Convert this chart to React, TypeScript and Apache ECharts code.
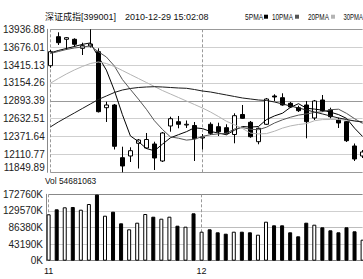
import React, { useEffect, useRef } from 'react';
import * as echarts from 'echarts';

const dates = [
  '2010-11-04', '2010-11-05', '2010-11-08', '2010-11-09', '2010-11-10', '2010-11-11', '2010-11-12',
  '2010-11-15', '2010-11-16', '2010-11-17', '2010-11-18', '2010-11-19', '2010-11-22', '2010-11-23',
  '2010-11-24', '2010-11-25', '2010-11-26', '2010-11-29', '2010-11-30', '2010-12-01', '2010-12-02',
  '2010-12-03', '2010-12-06', '2010-12-07', '2010-12-08', '2010-12-09', '2010-12-10', '2010-12-13',
  '2010-12-14', '2010-12-15', '2010-12-16', '2010-12-17', '2010-12-20', '2010-12-21', '2010-12-22',
  '2010-12-23', '2010-12-24', '2010-12-27', '2010-12-28', '2010-12-29',
];

const opens = [
  13405.7, 13828.9, 13791.0, 13791.0, 13659.6, 13693.2, 13610.0, 12792.7, 12832.1, 12063.0,
  12087.8, 12273.2, 12204.6, 12263.0, 12014.9, 12525.7, 12588.4, 12540.2, 12533.0, 12350.5,
  12550.5, 12515.4, 12500.8, 12401.6, 12693.5, 12579.6, 12296.5, 12550.5, 12963.5, 12938.7,
  12856.9, 12792.7, 12832.1, 12642.4, 12905.1, 12763.5, 12617.6, 12588.4, 12233.8, 12087.8,
];
const closes = [
  13610.0, 13741.3, 13814.3, 13718.0, 13697.5, 13722.4, 12734.4, 12832.1, 12229.4, 11941.9,
  12165.2, 12321.3, 12328.6, 12058.6, 12423.5, 12632.2, 12550.5, 12550.5, 12340.3, 12365.1,
  12419.1, 12442.5, 12419.1, 12676.0, 12638.0, 12369.5, 12492.1, 12919.7, 12948.9, 12832.1,
  12802.9, 12748.9, 12588.4, 12890.5, 12748.9, 12661.4, 12569.4, 12311.1, 12044.1, 12146.2,
];
const lows = [
  13376.5, 13707.8, 13634.8, 13683.0, 13561.8, 13671.3, 12722.7, 12584.0, 12182.7, 11849.89,
  12000.3, 11905.4, 12190.0, 11883.5, 12000.3, 12442.5, 12492.1, 12496.5, 12014.9, 12182.7,
  12394.3, 12379.7, 12401.6, 12273.2, 12632.2, 12354.9, 12258.6, 12540.2, 12890.5, 12821.9,
  12788.3, 12730.0, 12346.1, 12613.2, 12730.0, 12638.0, 12496.5, 12292.2, 12014.9, 12058.6,
];
const highs = [
  13634.8, 13893.1, 13824.5, 13805.6, 13741.3, 13936.88, 13659.6, 12880.3, 12846.7, 12223.5,
  12214.8, 12335.9, 12423.5, 12296.5, 12438.1, 12661.4, 12671.6, 12605.9, 12584.0, 12408.9,
  12579.6, 12573.8, 12550.5, 12711.0, 12832.1, 12598.6, 12503.8, 12934.3, 12988.3, 13002.9,
  12875.9, 12821.9, 12890.5, 12905.1, 12978.1, 12792.7, 12646.8, 12598.6, 12270.3, 12175.4,
];

// volume in thousands (K)
const volumes = [
  120720, 133730, 138940, 139720, 132690, 147520, 172000, 117080, 127490, 97310,
  81700, 98870, 121500, 114480, 109280, 114480, 91060, 88460, 123330, 75450,
  81700, 73890, 70250, 75450, 75450, 73890, 67650, 101470, 92100, 92100,
  73890, 63480, 98870, 93660, 86900, 79090, 73890, 86900, 76490, 54681,
];

const ma5 = [
  13591.0, 13627.5, 13656.7, 13685.9, 13716.5, 13738.4, 13537.0, 13341.5, 13043.7, 12692.0,
  12381.2, 12298.0, 12197.3, 12163.7, 12260.0, 12353.4, 12398.7, 12442.5, 12499.4, 12487.7,
  12445.4, 12423.5, 12397.2, 12464.4, 12518.4, 12509.6, 12518.4, 12619.1, 12673.1, 12712.5,
  12798.6, 12851.1, 12784.0, 12772.3, 12756.2, 12727.1, 12692.0, 12636.6, 12493.6, 12372.4,
];
const ma10 = [
  13583.7, 13612.9, 13642.1, 13664.0, 13678.6, 13693.2, 13610.0, 13532.6, 13401.3, 13204.3,
  13059.8, 12918.2, 12769.4, 12603.0, 12476.0, 12366.6, 12347.6, 12319.9, 12331.6, 12373.9,
  12398.7, 12410.4, 12420.6, 12481.9, 12503.8, 12477.5, 12471.7, 12508.1, 12569.4, 12616.1,
  12654.1, 12684.7, 12702.2, 12722.7, 12734.4, 12763.5, 12770.8, 12709.5, 12632.2, 12563.6,
];
const ma20 = [
  13148.8, 13218.9, 13284.5, 13342.9, 13394.0, 13437.8, 13459.7, 13437.8, 13394.0, 13335.6,
  13277.2, 13218.9, 13160.5, 13102.1, 13043.7, 12992.7, 12941.6, 12890.5, 12839.4, 12788.3,
  12730.0, 12664.3, 12594.2, 12543.2, 12489.2, 12422.0, 12410.4, 12414.7, 12449.8, 12495.0,
  12527.1, 12547.5, 12560.7, 12603.0, 12619.1, 12620.5, 12620.5, 12608.8, 12601.5, 12589.9,
];
const ma30 = [
  12511.1, 12584.0, 12649.7, 12715.4, 12781.1, 12846.7, 12912.4, 12963.5, 13014.6, 13051.0,
  13072.9, 13087.5, 13094.8, 13099.2, 13094.8, 13087.5, 13080.2, 13075.9, 13058.3, 13036.4,
  13021.9, 13000.0, 12978.1, 12956.2, 12934.3, 12919.7, 12905.1, 12897.8, 12875.9, 12846.7,
  12817.5, 12788.3, 12759.2, 12730.0, 12700.8, 12671.6, 12642.4, 12620.5, 12598.6, 12584.0,
];

const priceTicks = ['11849.89', '12110.77', '12371.64', '12632.51', '12893.39', '13154.26', '13415.13', '13676.01', '13936.88'];
const volTicks = ['0K', '43190K', '86380K', '129570K', '172760K'];
const monthLabels: Record<number, string> = { 0: '11', 19: '12' };

const titleName = '深证成指[399001]';
const titleTime = '2010-12-29 15:02:08';
const volTitle = 'Vol 54681063';
const maNames = ['5PMA', '10PMA', '20PMA', '30PMA'];
const maColors = ['#000000', '#555555', '#b4b4b4', '#1a1a1a'];

const PMIN = 11849.89;
const PMAX = 13936.88;
const PSTEP = (PMAX - PMIN) / 8;
const VMAX = 172760;
const VSTEP = 43190;

const SANS = "'Liberation Sans', 'Noto Sans CJK SC', sans-serif";

export default function App() {
  const ref = useRef<HTMLDivElement>(null);
  useEffect(() => {
    document.body.style.margin = '0';
    if (!ref.current) return;
    const chart = echarts.init(ref.current, undefined, { renderer: 'svg' });

    const candleData = dates.map((_, i) => [opens[i], closes[i], lows[i], highs[i]]);
    const volData = volumes.map((v, i) => {
      const up = closes[i] >= opens[i];
      return {
        value: v,
        itemStyle: up
          ? { color: '#ffffff', borderColor: '#000000', borderWidth: 1 }
          : { color: '#000000', borderColor: '#000000', borderWidth: 1 },
      };
    });

    const monthSplit = (idx: number) => idx === 0 || idx === 19;
    const gridLeft = 48.3;
    const gridRight = 0.4;

    const legendX = [245, 272, 308, 343.5];
    const legendScale = [0.74, 0.71, 0.71, 0.66];
    const legendSqX = [264, 295, 331];
    const graphics: any[] = [
      {
        type: 'text', x: 45, y: 16.7, silent: true,
        style: { text: titleName, x: 0, y: 0, font: `9px ${SANS}`, fill: '#111', align: 'left', verticalAlign: 'middle', textAlign: 'left', textVerticalAlign: 'middle' },
      },
      {
        type: 'text', x: 125, y: 16.7, silent: true,
        style: { text: titleTime, x: 0, y: 0, font: `9px ${SANS}`, fill: '#111', align: 'left', verticalAlign: 'middle', textAlign: 'left', textVerticalAlign: 'middle' },
      },
      {
        type: 'text', x: 45, y: 181, scaleX: 0.93, silent: true,
        style: { text: volTitle, x: 0, y: 0, font: `9px ${SANS}`, fill: '#111', align: 'left', verticalAlign: 'middle', textAlign: 'left', textVerticalAlign: 'middle' },
      },
    ];
    maNames.forEach((n, i) => {
      graphics.push({
        type: 'text', x: legendX[i], y: 16.7, scaleX: legendScale[i], silent: true,
        style: { text: n, x: 0, y: 0, font: `9px ${SANS}`, fill: '#111', align: 'left', verticalAlign: 'middle', textAlign: 'left', textVerticalAlign: 'middle' },
      });
      if (i < 3) {
        graphics.push({
          type: 'rect', silent: true,
          shape: { x: legendSqX[i], y: 14.7, width: 4, height: 4 },
          style: { fill: maColors[i] },
        });
      }
    });

    const option: any = {
      animation: false,
      backgroundColor: '#ffffff',
      grid: [
        { left: gridLeft, right: gridRight, top: 29.3, height: 143 },
        { left: gridLeft, right: gridRight, top: 194.3, height: 66.4 },
      ],
      xAxis: [
        {
          type: 'category', gridIndex: 0, data: dates, boundaryGap: false,
          axisLine: { show: false }, axisTick: { show: false }, axisLabel: { show: false },
          splitLine: { show: true, interval: monthSplit, lineStyle: { color: '#999', type: [3, 2], width: 1 } },
        },
        {
          type: 'category', gridIndex: 1, data: dates, boundaryGap: false,
          axisLine: { show: false }, axisTick: { show: false },
          axisLabel: {
            show: true, interval: monthSplit, margin: 6,
            formatter: (_v: string, idx: number) => monthLabels[idx] ?? '',
            fontFamily: SANS, fontSize: 9, color: '#111',
          },
          splitLine: { show: true, interval: monthSplit, lineStyle: { color: '#999', type: [3, 2], width: 1 } },
        },
      ],
      yAxis: [
        {
          type: 'value', gridIndex: 0, min: PMIN, max: PMAX, interval: PSTEP, offset: 2.6,
          axisLine: { show: true, lineStyle: { color: '#888' } },
          axisTick: { show: false },
          axisLabel: {
            margin: 3, fontFamily: SANS, fontSize: 10, color: '#222',
            verticalAlignMinLabel: 'bottom',
            formatter: (v: number) => priceTicks[Math.round((v - PMIN) / PSTEP)] ?? '',
          },
          splitLine: {
            show: true,
            lineStyle: { color: ['#999', '#cfcfcf', '#cfcfcf', '#cfcfcf', '#999', '#cfcfcf', '#cfcfcf', '#cfcfcf', '#999'], width: 1 },
          },
        },
        {
          type: 'value', gridIndex: 1, min: 0, max: VMAX, interval: VSTEP, offset: 2.6,
          axisLine: { show: true, lineStyle: { color: '#888' } },
          axisTick: { show: false },
          axisLabel: {
            margin: 3, fontFamily: SANS, fontSize: 10, color: '#222',
            formatter: (v: number) => volTicks[Math.round(v / VSTEP)] ?? '',
          },
          splitLine: {
            show: true,
            lineStyle: { color: ['#888', '#cfcfcf', '#bdbdbd', '#cfcfcf', '#888'], width: 1 },
          },
        },
      ],
      series: [
        {
          type: 'candlestick', name: 'K', xAxisIndex: 0, yAxisIndex: 0, data: candleData,
          barWidth: 4, clip: false,
          itemStyle: { color: '#ffffff', color0: '#000000', borderColor: '#000000', borderColor0: '#000000', borderWidth: 1 },
        },
        ...[ma5, ma10, ma20, ma30].map((d, i) => ({
          type: 'line', name: maNames[i], xAxisIndex: 0, yAxisIndex: 0, data: d,
          symbol: 'none', showSymbol: false, smooth: false, clip: false,
          lineStyle: { color: maColors[i], width: 1 },
          z: 3,
        })),
        {
          type: 'bar', name: 'Vol', xAxisIndex: 1, yAxisIndex: 1, data: volData,
          barWidth: 4, clip: false,
        },
      ],
      graphic: graphics,
    };

    chart.setOption(option);
    return () => chart.dispose();
  }, []);

  return <div ref={ref} style={{ width: 363, height: 279 }} />;
}
